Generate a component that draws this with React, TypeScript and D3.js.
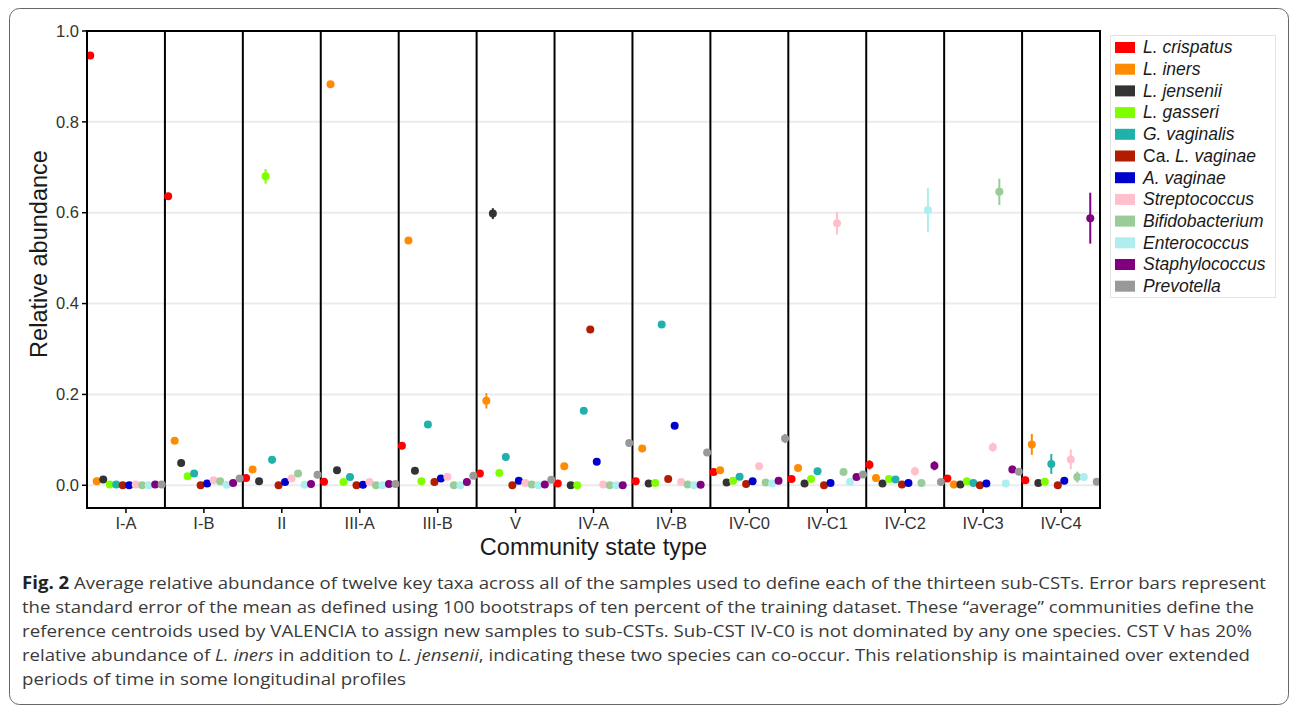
import React from 'react';
import * as d3 from 'd3';

// community state types (x categories)
const csts = ['I-A', 'I-B', 'II', 'III-A', 'III-B', 'V', 'IV-A', 'IV-B', 'IV-C0', 'IV-C1', 'IV-C2', 'IV-C3', 'IV-C4'];

const taxa = [
    'L. crispatus', 'L. iners', 'L. jensenii', 'L. gasseri', 'G. vaginalis', 'Ca. L. vaginae',
    'A. vaginae', 'Streptococcus', 'Bifidobacterium', 'Enterococcus', 'Staphylococcus', 'Prevotella',
];

const taxaColors = [
    '#FF0000', '#FF8C00', '#333333', '#7FFF00', '#20B2AA', '#B21C00',
    '#0000CD', '#FFC0CB', '#99CC99', '#AFEEEE', '#800080', '#999999',
];

// mean relative abundance per taxon, one value per CST
const crispatusMean = [0.946, 0.636, 0.016, 0.008, 0.087, 0.026, 0.004, 0.009, 0.029, 0.014, 0.045, 0.015, 0.011];
const inersMean = [0.009, 0.098, 0.035, 0.883, 0.539, 0.186, 0.042, 0.081, 0.033, 0.038, 0.016, 0.002, 0.090];
const jenseniiMean = [0.013, 0.049, 0.009, 0.033, 0.032, 0.598, 0.0, 0.004, 0.006, 0.004, 0.004, 0.002, 0.005];
const gasseriMean = [0.002, 0.020, 0.680, 0.007, 0.009, 0.027, 0.0, 0.005, 0.010, 0.014, 0.014, 0.009, 0.008];
const gvaginalisMean = [0.002, 0.026, 0.056, 0.018, 0.134, 0.062, 0.164, 0.354, 0.019, 0.031, 0.013, 0.005, 0.047];
const lvaginaeMean = [0.0, 0.0, 0.0, 0.0, 0.007, 0.0, 0.343, 0.014, 0.003, 0.0, 0.002, 0.0, 0.0];
const avaginaeMean = [0.0, 0.004, 0.007, 0.001, 0.015, 0.010, 0.052, 0.131, 0.009, 0.005, 0.005, 0.004, 0.010];
const streptococcusMean = [0.002, 0.011, 0.015, 0.007, 0.019, 0.005, 0.002, 0.007, 0.042, 0.577, 0.031, 0.084, 0.057];
const bifidobacteriumMean = [0.0, 0.009, 0.026, 0.0, 0.0, 0.002, 0.0, 0.002, 0.006, 0.029, 0.005, 0.646, 0.018];
const enterococcusMean = [0.0, 0.001, 0.001, 0.0, 0.0, 0.0, 0.0, 0.0, 0.004, 0.008, 0.606, 0.004, 0.018];
const staphylococcusMean = [0.002, 0.005, 0.003, 0.003, 0.007, 0.002, 0.0, 0.001, 0.010, 0.018, 0.043, 0.035, 0.588];
const prevotellaMean = [0.002, 0.015, 0.023, 0.003, 0.021, 0.012, 0.093, 0.072, 0.103, 0.024, 0.007, 0.030, 0.008];

// standard error of the mean (bootstrap)
const crispatusSe = [0.003, 0.004, 0.002, 0.002, 0.004, 0.003, 0.002, 0.002, 0.003, 0.003, 0.010, 0.003, 0.008];
const inersSe = [0.002, 0.003, 0.003, 0.003, 0.004, 0.017, 0.003, 0.003, 0.003, 0.006, 0.003, 0.001, 0.023];
const jenseniiSe = [0.002, 0.003, 0.002, 0.003, 0.003, 0.012, 0.0, 0.001, 0.002, 0.001, 0.001, 0.001, 0.002];
const gasseriSe = [0.001, 0.003, 0.016, 0.002, 0.002, 0.003, 0.0, 0.002, 0.003, 0.003, 0.005, 0.003, 0.003];
const gvaginalisSe = [0.001, 0.003, 0.008, 0.003, 0.004, 0.004, 0.004, 0.004, 0.003, 0.003, 0.003, 0.002, 0.022];
const lvaginaeSe = [0.0, 0.0, 0.0, 0.0, 0.002, 0.0, 0.006, 0.003, 0.001, 0.0, 0.001, 0.0, 0.0];
const avaginaeSe = [0.0, 0.001, 0.002, 0.001, 0.002, 0.002, 0.003, 0.004, 0.002, 0.002, 0.002, 0.001, 0.003];
const streptococcusSe = [0.001, 0.002, 0.002, 0.002, 0.003, 0.002, 0.001, 0.002, 0.003, 0.025, 0.010, 0.010, 0.022];
const bifidobacteriumSe = [0.0, 0.002, 0.003, 0.0, 0.0, 0.001, 0.0, 0.001, 0.002, 0.004, 0.002, 0.029, 0.012];
const enterococcusSe = [0.0, 0.001, 0.001, 0.0, 0.0, 0.0, 0.0, 0.0, 0.001, 0.002, 0.049, 0.002, 0.008];
const staphylococcusSe = [0.001, 0.002, 0.001, 0.001, 0.002, 0.001, 0.0, 0.001, 0.003, 0.004, 0.010, 0.008, 0.056];
const prevotellaSe = [0.001, 0.003, 0.003, 0.001, 0.003, 0.002, 0.004, 0.004, 0.010, 0.004, 0.002, 0.004, 0.002];

const yTicks = [0, 0.2, 0.4, 0.6, 0.8, 1.0];

const means = [crispatusMean, inersMean, jenseniiMean, gasseriMean, gvaginalisMean, lvaginaeMean,
    avaginaeMean, streptococcusMean, bifidobacteriumMean, enterococcusMean, staphylococcusMean, prevotellaMean];
const ses = [crispatusSe, inersSe, jenseniiSe, gasseriSe, gvaginalisSe, lvaginaeSe,
    avaginaeSe, streptococcusSe, bifidobacteriumSe, enterococcusSe, staphylococcusSe, prevotellaSe];

const W = 1292;
const H = 708;
const plot = { left: 87, right: 1100, top: 31, bottom: 508 };
const plotFont = '"Liberation Sans", Arial, sans-serif';
const captionFont = '"Open Sans", sans-serif';

const LegendLabel: React.FC<{ name: string }> = ({ name }) => {
    if (name.startsWith('Ca. ')) {
        return (
            <>
                <tspan>Ca. </tspan>
                <tspan fontStyle="italic">{name.slice(4)}</tspan>
            </>
        );
    }
    return <tspan fontStyle="italic">{name}</tspan>;
};

const App: React.FC = () => {
    const x = d3.scaleBand<string>().domain(csts).range([plot.left, plot.right]).padding(0);
    const y = d3.scaleLinear().domain([-0.05, 1.0]).range([plot.bottom, plot.top]);
    const bw = x.bandwidth();
    // position_dodge with width = 1 band
    const dodge = d3.scaleBand<number>().domain(d3.range(taxa.length)).range([0, bw]);

    const points = taxa.flatMap((t, ti) =>
        csts.map((c, ci) => ({
            taxon: t,
            color: taxaColors[ti],
            cx: (x(c) || 0) + (dodge(ti) || 0) + dodge.bandwidth() / 2,
            mean: means[ti][ci],
            se: ses[ti][ci],
        }))
    );

    const legendRow = 21.7;
    const legendTop = 36;

    return (
        <svg width={W} height={H} style={{ position: 'absolute', left: 0, top: 0 }}>
            <rect x={0} y={0} width={W} height={H} fill="#fff" />
            <rect x={9.5} y={8.5} width={1279} height={696} rx={10} fill="none" stroke="#666" strokeWidth={1} />

            {/* gridlines */}
            {yTicks.map(t => (
                <line key={'g' + t} x1={plot.left} x2={plot.right} y1={y(t)} y2={y(t)} stroke="#EBEBEB" strokeWidth={2} />
            ))}

            {/* CST separators */}
            {csts.slice(1).map(c => (
                <line key={'s' + c} x1={x(c)} x2={x(c)} y1={plot.top} y2={plot.bottom} stroke="#000" strokeWidth={2} />
            ))}

            {/* error bars */}
            {points.map((p, i) => (
                <line key={'e' + i} x1={p.cx} x2={p.cx} y1={y(p.mean - p.se)} y2={y(p.mean + p.se)} stroke={p.color} strokeWidth={2} />
            ))}
            {/* means */}
            {points.map((p, i) => (
                <circle key={'p' + i} cx={p.cx} cy={y(p.mean)} r={4} fill={p.color} />
            ))}

            <rect x={plot.left} y={plot.top} width={plot.right - plot.left} height={plot.bottom - plot.top}
                fill="none" stroke="#000" strokeWidth={2} />

            {/* y axis */}
            {yTicks.map(t => (
                <g key={'y' + t}>
                    <line x1={plot.left - 5} x2={plot.left} y1={y(t)} y2={y(t)} stroke="#000" strokeWidth={1.5} />
                    <text x={plot.left - 8} y={y(t)} dy="0.35em" textAnchor="end" fontFamily={plotFont} fontSize={16.5} fill="#333">
                        {t.toFixed(1)}
                    </text>
                </g>
            ))}
            <text transform={`translate(47,254) rotate(-90)`} textAnchor="middle"
                fontFamily={plotFont} fontSize={23.5} fill="#1a1a1a">Relative abundance</text>

            {/* x axis */}
            {csts.map(c => {
                const cx = (x(c) || 0) + bw / 2;
                return (
                    <g key={'x' + c}>
                        <line x1={cx} x2={cx} y1={plot.bottom} y2={plot.bottom + 5} stroke="#000" strokeWidth={1.5} />
                        <text x={cx} y={plot.bottom + 21} textAnchor="middle" fontFamily={plotFont} fontSize={16.5} fill="#333">{c}</text>
                    </g>
                );
            })}
            <text x={(plot.left + plot.right) / 2} y={555} textAnchor="middle" fontFamily={plotFont} fontSize={23.5} fill="#1a1a1a">
                Community state type
            </text>

            {/* legend */}
            <rect x={1110.5} y={35.5} width={165} height={262} fill="#fff" stroke="#E3E3E3" strokeWidth={1} />
            {taxa.map((t, i) => {
                const cy = legendTop + 11 + i * legendRow;
                return (
                    <g key={'l' + t}>
                        <rect x={1115} y={cy - 5} width={20} height={11} fill={taxaColors[i]} />
                        <text x={1143} y={cy} dy="0.36em" fontFamily={plotFont} fontSize={17.5} fill="#1a1a1a">
                            <LegendLabel name={t} />
                        </text>
                    </g>
                );
            })}

            {/* caption */}
            <g fontFamily={captionFont} fontSize={17} fill="#3a3a3a">
                <text x={22} y={589} textLength={1244} lengthAdjust="spacingAndGlyphs">
                    <tspan fontWeight="bold" fill="#222">Fig. 2</tspan> Average relative abundance of twelve key taxa across all of the samples used to define each of the thirteen sub-CSTs. Error bars represent
                </text>
                <text x={22} y={613} textLength={1232} lengthAdjust="spacingAndGlyphs">
                    the standard error of the mean as defined using 100 bootstraps of ten percent of the training dataset. These “average” communities define the
                </text>
                <text x={22} y={637} textLength={1230} lengthAdjust="spacingAndGlyphs">
                    reference centroids used by VALENCIA to assign new samples to sub-CSTs. Sub-CST IV-C0 is not dominated by any one species. CST V has 20%
                </text>
                <text x={22} y={661} textLength={1228} lengthAdjust="spacingAndGlyphs">
                    relative abundance of <tspan fontStyle="italic">L. iners</tspan> in addition to <tspan fontStyle="italic">L. jensenii</tspan>, indicating these two species can co-occur. This relationship is maintained over extended
                </text>
                <text x={22} y={685} textLength={384} lengthAdjust="spacingAndGlyphs">
                    periods of time in some longitudinal profiles
                </text>
            </g>
        </svg>
    );
};

export default App;
